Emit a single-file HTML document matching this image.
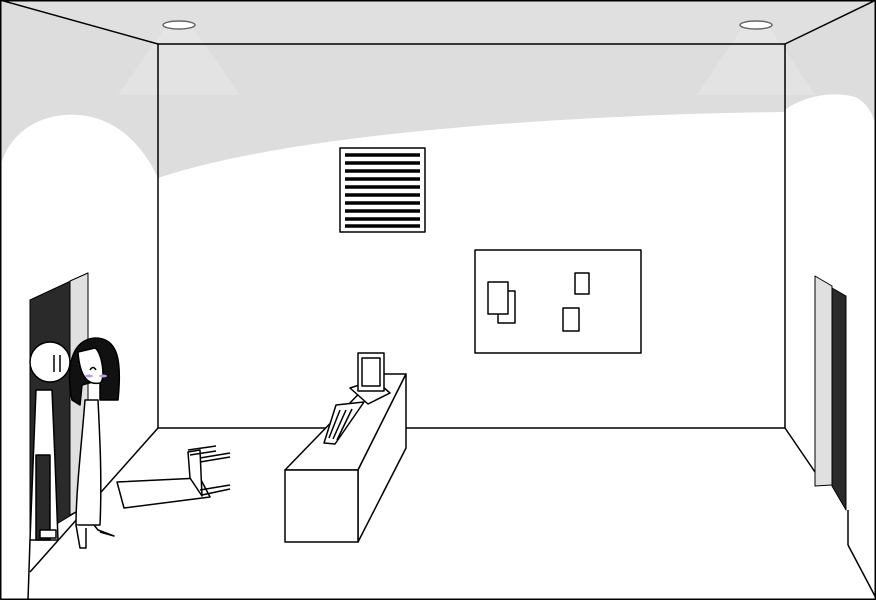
<!DOCTYPE html>
<html><head><meta charset="utf-8"><style>html,body{margin:0;padding:0;background:#fff}svg{display:block}</style></head>
<body>
<svg width="876" height="600" viewBox="0 0 876 600" xmlns="http://www.w3.org/2000/svg" stroke-linejoin="round">
<rect x="0" y="0" width="876" height="600" fill="#fff"/>
<!-- ceiling grey -->
<polygon points="0,0 876,0 785,44 158,44" fill="#e0e0e0"/>
<path d="M158,44 L785,44 L785,112 C600,114 300,130 158,178 Z" fill="#dddddd"/>
<path d="M0,0 L158,44 L158,178 C140,140 110,112 65,115 C25,118 5,145 0,168 Z" fill="#dddddd"/>
<path d="M876,0 L785,44 L785,110 C800,98 830,90 855,97 C866,102 872,112 876,125 Z" fill="#dddddd"/>
<!-- light cones -->
<polygon points="165,28 193,28 240,95 118,95" fill="#e8e8e8" opacity="0.6"/>
<polygon points="742,28 770,28 815,95 697,95" fill="#e8e8e8" opacity="0.6"/>
<ellipse cx="179" cy="25" rx="16" ry="4" fill="#fff" stroke="#666" stroke-width="1.5"/>
<ellipse cx="756" cy="25" rx="16" ry="4" fill="#fff" stroke="#666" stroke-width="1.5"/>
<!-- room lines -->
<g stroke="#000" stroke-width="1.5" fill="none">
<rect x="0.75" y="0.75" width="874.5" height="598.5"/>
<line x1="0" y1="0" x2="158" y2="44"/>
<line x1="876" y1="0" x2="785" y2="44"/>
<rect x="158" y="44" width="627" height="384"/>
<line x1="158" y1="428" x2="30" y2="572"/>
<line x1="30" y1="540" x2="28" y2="600"/>
<line x1="785" y1="428" x2="815" y2="472"/>
<line x1="848" y1="545" x2="876" y2="598"/>
<line x1="848" y1="510" x2="848" y2="545"/>
</g>
<!-- vent -->
<rect x="340" y="148" width="85" height="84" fill="#fff" stroke="#000" stroke-width="1.5"/>
<g stroke="#000" stroke-width="3.5">
<line x1="345" y1="155" x2="420" y2="155"/><line x1="345" y1="163" x2="420" y2="163"/>
<line x1="345" y1="171" x2="420" y2="171"/><line x1="345" y1="179" x2="420" y2="179"/>
<line x1="345" y1="187" x2="420" y2="187"/><line x1="345" y1="195" x2="420" y2="195"/>
<line x1="345" y1="203" x2="420" y2="203"/><line x1="345" y1="211" x2="420" y2="211"/>
<line x1="345" y1="219" x2="420" y2="219"/><line x1="345" y1="226" x2="420" y2="226"/>
</g>
<!-- board -->
<g fill="#fff" stroke="#000" stroke-width="1.5">
<rect x="475" y="250" width="166" height="103"/>
<rect x="498" y="291" width="17" height="32"/>
<rect x="488" y="282" width="20" height="32"/>
<rect x="575" y="273" width="14" height="21"/>
<rect x="563" y="308" width="16" height="23"/>
</g>
<!-- left door -->
<polygon points="30,300 88,273 88,505 30,540" fill="#2a2a2a" stroke="#000"/>
<polygon points="70,281 88,273 88,505 70,515" fill="#e0e0e0" stroke="#000"/>
<!-- right door -->
<polygon points="815,276 832,286 832,485 815,486" fill="#e0e0e0" stroke="#000"/>
<polygon points="832,288 846,296 846,510 832,486" fill="#2a2a2a" stroke="#000"/>
<!-- chair -->
<g fill="#fff" stroke="#000" stroke-width="1.5">
<polygon points="117,482 200,478 210,497 124,508"/>
<polygon points="188,452 200,450 202,496 190,478"/>
<line x1="188" y1="450" x2="216" y2="446"/><line x1="190" y1="455" x2="216" y2="451"/>
<line x1="200" y1="458" x2="230" y2="453"/><line x1="200" y1="462" x2="230" y2="457"/>
<line x1="200" y1="490" x2="230" y2="485"/><line x1="202" y1="495" x2="230" y2="489"/>
</g>
<!-- desk -->
<g fill="#fff" stroke="#000" stroke-width="1.5">
<polygon points="285,470 358,470 406,374 378,374"/>
<polygon points="358,470 406,374 406,448 358,542"/>
<rect x="285" y="470" width="73" height="72"/>
<polygon points="350,388 375,380 390,393 368,404"/>
<rect x="358" y="353" width="26" height="38"/>
<rect x="362" y="358" width="18" height="28"/>
<polygon points="336,405 364,402 335,444 324,443"/>
<line x1="340" y1="410" x2="329" y2="438"/><line x1="346" y1="410" x2="333" y2="439"/><line x1="352" y1="409" x2="337" y2="440"/>
</g>
<!-- guy -->
<g stroke="#000" stroke-width="1.5" fill="#fff">
<path d="M36,390 L30,540 L58,540 L55,460 L52,390 Z"/>
<rect x="36" y="455" width="14" height="85" fill="#2a2a2a"/>
<circle cx="50" cy="362" r="20"/>
<line x1="54" y1="355" x2="54" y2="372"/><line x1="60" y1="355" x2="60" y2="372"/>
<rect x="40" y="530" width="16" height="8"/>
</g>
<!-- girl -->
<g stroke="#000" stroke-width="1.5">
<path d="M72,400 C66,370 70,340 95,338 C118,338 122,360 118,400 L100,400 L100,380 L82,385 L80,405 Z" fill="#111"/>
<path d="M78,352 C80,380 90,385 100,383 C106,380 102,352 95,348 Z" fill="#fff"/>
<path d="M85,400 C82,440 76,490 76,525 L100,525 C102,480 100,440 98,400 Z" fill="#fff"/>
<path d="M76,525 L80,548 L86,548 L86,528 M94,525 L98,530 L114,536 L100,532" fill="#fff"/>
<path d="M90,370 Q93,365 96,370" fill="none"/>
</g>
<g fill="#b9a0e6"><ellipse cx="89" cy="376" rx="4" ry="1.5"/><ellipse cx="103" cy="376" rx="4" ry="1.5"/></g>
</svg>
</body></html>
